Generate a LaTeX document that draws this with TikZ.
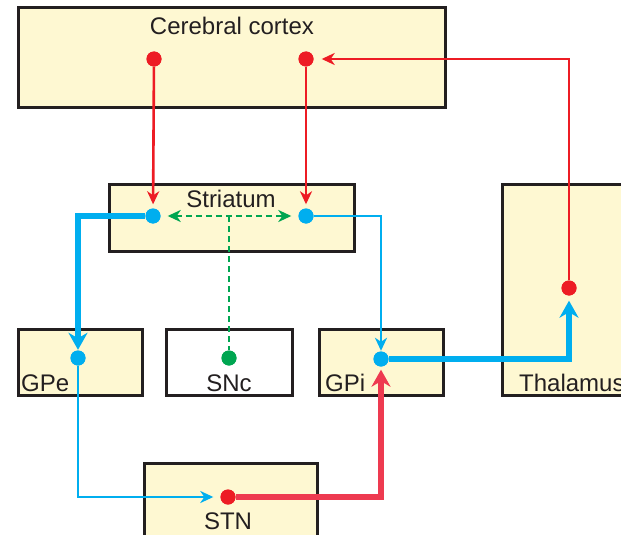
\documentclass[tikz,border=0pt]{standalone}
\usepackage{fontspec}
\setmainfont{Liberation Sans}
\usetikzlibrary{arrows.meta}
\definecolor{cream}{HTML}{FEF8D2}
\definecolor{edge}{HTML}{231F20}
\definecolor{nred}{HTML}{ED1C24}
\definecolor{pred}{HTML}{EE3A50}
\definecolor{nblue}{HTML}{00AEEF}
\definecolor{ngreen}{HTML}{00A651}
\tikzset{
  box/.style={draw=edge, line width=3pt, fill=cream, inner sep=0pt},
  wbox/.style={box, fill=white},
  lbl/.style={font=\fontsize{24}{28}\selectfont, text=edge, inner sep=0pt, anchor=base},
  dot/.style={circle, inner sep=0pt, minimum size=15pt},
  tipthin/.style={-{Stealth[length=13pt, width=12pt, inset=4pt]}},
  tipthick/.style={-{Stealth[length=17pt, width=19pt, inset=5.5pt]}},
  thinred/.style={draw=nred, line width=2.6pt, tipthin},
  thinblue/.style={draw=nblue, line width=2.4pt, tipthin},
  thickblue/.style={draw=nblue, line width=6pt, tipthick},
  thickred/.style={draw=pred, line width=6pt, tipthick},
  greendash/.style={draw=ngreen, line width=2.8pt, dash pattern=on 6pt off 4pt},
}
\begin{document}
\begin{tikzpicture}[x=1pt, y=-1pt]
\useasboundingbox (0,0) rectangle (621,535);
\clip (0,0) rectangle (621,535);
% boxes
\node[box, minimum width=427pt, minimum height=99pt] (cortex) at (231.5,57.5) {};
\node[box, minimum width=245pt, minimum height=67pt] (striatum) at (231.5,217.5) {};
\node[box, minimum width=124pt, minimum height=66pt] (gpe) at (80,362) {};
\node[wbox, minimum width=126pt, minimum height=66pt] (snc) at (229,362) {};
\node[box, minimum width=124pt, minimum height=66pt] (gpi) at (381,362) {};
\node[box, minimum width=147pt, minimum height=211pt] (thal) at (576,289.5) {};
\node[box, minimum width=173pt, minimum height=96pt] (stn) at (230.5,511) {};
% labels
\node[lbl] (tcortex) at (232,35) {Cerebral cortex};
\node[lbl] (tstriatum) at (231,207) {Striatum};
\node[lbl, anchor=base west] (tgpe) at (21,391) {GPe};
\node[lbl] (tsnc) at (229,391) {SNc};
\node[lbl, anchor=base west] (tgpi) at (325,391) {GPi};
\node[lbl, anchor=base west] (tthal) at (519,391) {Thalamus};
\node[lbl] (tstn) at (228,529) {STN};
% dots
\node[dot, fill=nred] (c1) at (154,59) {};
\node[dot, fill=nred] (c2) at (306,59) {};
\node[dot, fill=nblue] (s1) at (153,216) {};
\node[dot, fill=nblue] (s2) at (306,216) {};
\node[dot, fill=nblue] (pe) at (78,358) {};
\node[dot, fill=ngreen] (sn) at (229,358) {};
\node[dot, fill=nblue] (pi) at (381,359) {};
\node[dot, fill=nred] (th) at (569,288) {};
\node[dot, fill=nred] (st) at (228,497) {};
\coordinate (gj) at (229,216);
% connectors
\draw[thinred, shorten >=4pt] (c1) -- (s1);
\draw[thinred, shorten >=4pt] (c2) -- (s2);
\draw[thinred, shorten >=8pt] (th) |- (c2);
\draw[greendash, {Stealth[length=13pt, width=12pt, inset=4pt]}-{Stealth[length=13pt, width=12pt, inset=4pt]}, shorten >=7pt, shorten <=7pt] (s1) -- (s2);
\draw[greendash] (gj) -- (sn);
\draw[thickblue, shorten >=0.5pt] (s1) -| (pe);
\draw[thinblue, shorten >=0.5pt] (s2) -| (pi);
\draw[thinblue, shorten >=7pt] (pe) |- (st);
\draw[thickblue, shorten >=5pt] (pi) -| (th);
\draw[thickred, shorten >=3pt] (st) -| (pi);
% redraw dots on top
\foreach \n/\c in {c1/nred,c2/nred,s1/nblue,s2/nblue,pe/nblue,sn/ngreen,pi/nblue,th/nred,st/nred}
  \fill[\c] (\n) circle (7.5pt);
\end{tikzpicture}
\end{document}
